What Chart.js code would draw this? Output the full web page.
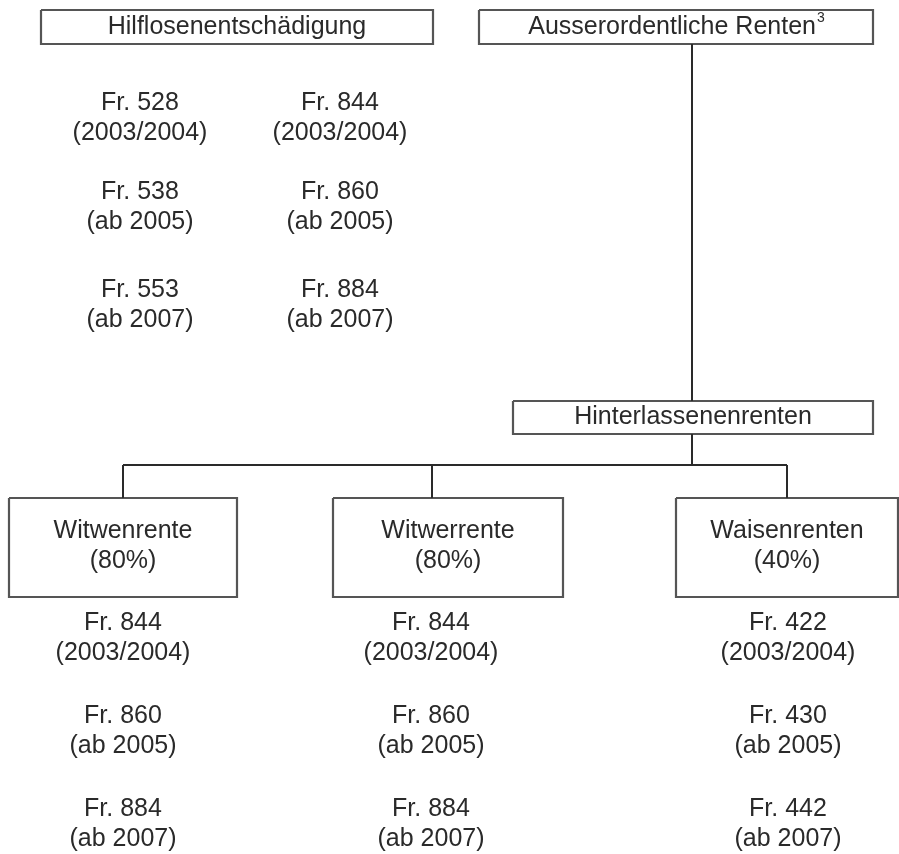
<!DOCTYPE html>
<html lang="de">

<head>
  <meta charset="UTF-8">
  <title>Ausserordentliche Renten</title>
  <script src="https://cdn.jsdelivr.net/npm/chart.js"></script>
  <style>
    body {
      margin: 0;
      padding: 0;
      background: #fff;
    }

    .chart-container {
      width: 899px;
      height: 854px;
    }
  </style>
</head>

<body>
  <div class="chart-container">
    <canvas id="diagram"></canvas>
  </div>

  <script>
    // Daten
    const helplessTitle = 'Hilflosenentschädigung';
    const extraTitle = 'Ausserordentliche Renten';
    const extraNote = '3';
    const survivorTitle = 'Hinterlassenenrenten';
    const periods = ['2003/2004', 'ab 2005', 'ab 2007'];
    const helplessLow = [528, 538, 553];
    const helplessHigh = [844, 860, 884];
    const survivorKinds = ['Witwenrente', 'Witwerrente', 'Waisenrenten'];
    const survivorShares = [80, 80, 40];
    const widowAmounts = [844, 860, 884];
    const widowerAmounts = [844, 860, 884];
    const orphanAmounts = [422, 430, 442];

    // Layout (Koordinaten in Pixeln der Skala)
    const W = 899, H = 854;
    const FONT = '25px "Liberation Sans", Arial, sans-serif';
    const textColor = '#2a2a2a';
    const boxColor = '#555';
    const lineColor = '#2a2a2a';

    const topBoxes = [
      { x0: 41, x1: 433, y0: 10, y1: 44, text: helplessTitle },
      { x0: 479, x1: 873, y0: 10, y1: 44, text: extraTitle, note: extraNote },
      { x0: 513, x1: 873, y0: 401, y1: 434, text: survivorTitle }
    ];
    const kindBoxes = [
      { x0: 9, x1: 237 },
      { x0: 333, x1: 563 },
      { x0: 676, x1: 898 }
    ].map((b, i) => ({ ...b, y0: 498, y1: 597, lines: [survivorKinds[i], '(' + survivorShares[i] + '%)'] }));

    const topCols = [140, 340];
    const topRows = [103, 192, 290];
    const bottomCols = [123, 431, 788];
    const bottomRows = [623, 716, 809];
    const rowGap = 30;

    const connectors = [
      [[692, 44], [692, 401]],
      [[692, 434], [692, 465]],
      [[123, 465], [787, 465]],
      [[123, 465], [123, 498]],
      [[432, 465], [432, 498]],
      [[787, 465], [787, 498]]
    ];

    function rect(b) {
      return [
        { x: b.x0, y: b.y0 }, { x: b.x1, y: b.y0 },
        { x: b.x1, y: b.y1 }, { x: b.x0, y: b.y1 }, { x: b.x0, y: b.y0 }
      ];
    }

    const datasets = [];
    connectors.forEach(c => {
      datasets.push({
        type: 'line',
        data: c.map(p => ({ x: p[0], y: p[1] })),
        borderColor: lineColor,
        borderWidth: 2,
        pointRadius: 0,
        tension: 0
      });
    });
    [...topBoxes, ...kindBoxes].forEach(b => {
      datasets.push({
        type: 'line',
        data: rect(b),
        borderColor: boxColor,
        borderWidth: 2.2,
        pointRadius: 0,
        tension: 0
      });
    });

    // Textanker als unsichtbare Punkte
    const labels = [];
    topBoxes.forEach(b => labels.push({ x: (b.x0 + b.x1) / 2, y: (b.y0 + b.y1) / 2, text: b.text, note: b.note }));
    kindBoxes.forEach(b => {
      labels.push({ x: (b.x0 + b.x1) / 2, y: 531, text: b.lines[0] });
      labels.push({ x: (b.x0 + b.x1) / 2, y: 561, text: b.lines[1] });
    });
    [helplessLow, helplessHigh].forEach((vals, c) => {
      vals.forEach((v, r) => {
        labels.push({ x: topCols[c], y: topRows[r], text: 'Fr. ' + v });
        labels.push({ x: topCols[c], y: topRows[r] + rowGap, text: '(' + periods[r] + ')' });
      });
    });
    [widowAmounts, widowerAmounts, orphanAmounts].forEach((vals, c) => {
      vals.forEach((v, r) => {
        labels.push({ x: bottomCols[c], y: bottomRows[r], text: 'Fr. ' + v });
        labels.push({ x: bottomCols[c], y: bottomRows[r] + rowGap, text: '(' + periods[r] + ')' });
      });
    });
    datasets.push({
      type: 'scatter',
      data: labels,
      pointRadius: 0,
      textLabels: true
    });

    const textPlugin = {
      id: 'textPlugin',
      afterDatasetsDraw(chart) {
        const ctx = chart.ctx;
        chart.data.datasets.forEach((ds, i) => {
          if (!ds.textLabels) return;
          const meta = chart.getDatasetMeta(i);
          ctx.save();
          ctx.fillStyle = textColor;
          ctx.textBaseline = 'middle';
          meta.data.forEach((pt, j) => {
            const item = ds.data[j];
            ctx.font = FONT;
            const w = ctx.measureText(item.text).width;
            let noteW = 0;
            if (item.note) {
              ctx.font = '14px "Liberation Sans", Arial, sans-serif';
              noteW = ctx.measureText(item.note).width;
            }
            const left = pt.x - (w + noteW) / 2;
            ctx.font = FONT;
            ctx.textAlign = 'left';
            ctx.fillText(item.text, left, pt.y);
            if (item.note) {
              ctx.font = '14px "Liberation Sans", Arial, sans-serif';
              ctx.fillText(item.note, left + w + 1, pt.y - 9);
            }
          });
          ctx.restore();
        });
      }
    };

    new Chart(document.getElementById('diagram').getContext('2d'), {
      type: 'scatter',
      data: { datasets },
      options: {
        responsive: true,
        maintainAspectRatio: false,
        animation: false,
        layout: { padding: 0 },
        scales: {
          x: { type: 'linear', min: 0, max: W, display: false },
          y: { type: 'linear', min: 0, max: H, reverse: true, display: false }
        },
        plugins: {
          legend: { display: false },
          tooltip: { enabled: false }
        }
      },
      plugins: [textPlugin]
    });
  </script>
</body>

</html>
